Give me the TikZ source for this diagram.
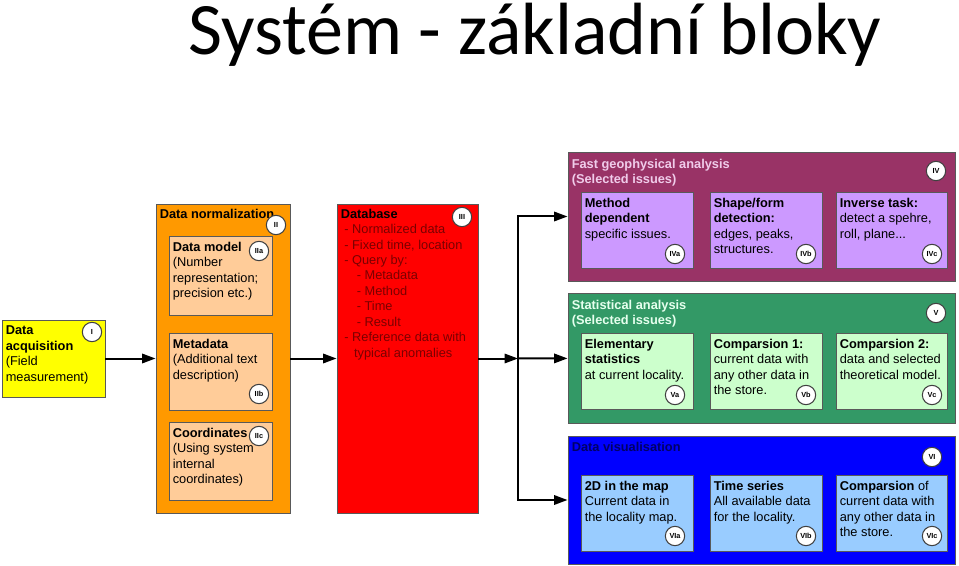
\documentclass[tikz,border=0pt]{standalone}
\usepackage{fontspec}
\setmainfont{Liberation Sans}
\newfontfamily\titlefont{Carlito}
\usetikzlibrary{arrows.meta,fit,positioning}

\definecolor{acqyellow}{HTML}{FFFF00}
\definecolor{normorange}{HTML}{FF9900}
\definecolor{normpeach}{HTML}{FFCC99}
\definecolor{dbred}{HTML}{FF0000}
\definecolor{dbtext}{HTML}{7A0000}
\definecolor{fastpurple}{HTML}{993366}
\definecolor{fastlight}{HTML}{CC99FF}
\definecolor{fasttitle}{HTML}{F0CCEA}
\definecolor{statgreen}{HTML}{339966}
\definecolor{statlight}{HTML}{CCFFCC}
\definecolor{stattitle}{HTML}{E6FFEE}
\definecolor{visblue}{HTML}{0000FF}
\definecolor{vislight}{HTML}{99CCFF}
\definecolor{vistitle}{HTML}{000066}

\tikzset{
  blk/.style = {draw=black!65, line width=0.7pt, inner sep=0pt},
  txt/.style = {anchor=north west, align=left, inner sep=0pt,
                font=\fontsize{9.6}{11.6}\selectfont},
  tag/.style = {circle, draw=black!75, fill=white, line width=0.8pt,
                minimum size=14.5pt, inner sep=0pt,
                font=\bfseries\fontsize{5.5}{5.5}\selectfont},
  arr/.style = {line width=1.5pt, -{Triangle[length=10pt,width=7pt]}}
}

\begin{document}
\begin{tikzpicture}[x=0.75pt, y=-0.75pt]
  \useasboundingbox (0,0) rectangle (959,566);
  % title
  \node[anchor=base west, inner sep=0pt, font=\titlefont\fontsize{55.5}{60}\selectfont]
    (title) at (188,55) {Systém - základní bloky};

  % I
  \node[blk, fill=acqyellow, fit={(2,320)(105,397)}] (acq) {};
  \node[txt] (acqtxt) at ([shift={(4,6)}]acq.north west)
    {\textbf{Data}\\\textbf{acquisition}\\(Field\\measurement)};
  \node[tag] (tI) at (92,332) {I};

  % II
  \node[blk, fill=normorange, fit={(156,204)(290,513)}] (norm) {};
  \node[txt] (normtxt) at ([shift={(4,5)}]norm.north west) {\textbf{Data normalization}};
  \node[tag] (tII) at (276,225) {II};
  \node[blk, fill=normpeach, fit={(169,236)(272,315)}] (nmodel) {};
  \node[txt] (nmodeltxt) at ([shift={(4,6)}]nmodel.north west)
    {\textbf{Data model}\\(Number\\representation;\\precision etc.)};
  \node[tag] (tIIa) at (259,251) {IIa};
  \node[blk, fill=normpeach, fit={(169,333)(272,410)}] (nmeta) {};
  \node[txt] (nmetatxt) at ([shift={(4,6)}]nmeta.north west)
    {\textbf{Metadata}\\(Additional text\\description)};
  \node[tag] (tIIb) at (259,394) {IIb};
  \node[blk, fill=normpeach, fit={(169,422)(272,500)}] (ncoord) {};
  \node[txt] (ncoordtxt) at ([shift={(4,6)}]ncoord.north west)
    {\textbf{Coordinates}\\(Using system\\internal\\coordinates)};
  \node[tag] (tIIc) at (259,436) {IIc};

  % III
  \node[blk, fill=dbred, fit={(337,204)(478,513)}] (db) {};
  \node[txt] (dbtxt) at ([shift={(4,5)}]db.north west)
    {\textbf{Database}\\
     \textcolor{dbtext}{\ - Normalized data}\\
     \textcolor{dbtext}{\ - Fixed time, location}\\
     \textcolor{dbtext}{\ - Query by:}\\
     \textcolor{dbtext}{\hspace{12pt}- Metadata}\\
     \textcolor{dbtext}{\hspace{12pt}- Method}\\
     \textcolor{dbtext}{\hspace{12pt}- Time}\\
     \textcolor{dbtext}{\hspace{12pt}- Result}\\
     \textcolor{dbtext}{\ - Reference data with}\\
     \textcolor{dbtext}{\hspace{10pt}typical anomalies}};
  \node[tag] (tIII) at (462,217) {III};

  % IV
  \node[blk, fill=fastpurple, fit={(568,152)(955,281)}] (fast) {};
  \node[txt, text=fasttitle] (fasttxt) at ([shift={(4,7)}]fast.north west)
    {\textbf{Fast geophysical analysis}\\\textbf{(Selected issues)}};
  \node[tag] (tIV) at (936,171) {IV};
  \node[blk, fill=fastlight, fit={(581,192)(693,268)}] (fastA) {};
  \node[txt] (fastAtxt) at ([shift={(4,6)}]fastA.north west)
    {\textbf{Method}\\\textbf{dependent}\\specific issues.};
  \node[tag] (tIVa) at (675,254) {IVa};
  \node[blk, fill=fastlight, fit={(710,192)(822,268)}] (fastB) {};
  \node[txt] (fastBtxt) at ([shift={(4,6)}]fastB.north west)
    {\textbf{Shape/form}\\\textbf{detection:}\\edges, peaks,\\structures.};
  \node[tag] (tIVb) at (806,254) {IVb};
  \node[blk, fill=fastlight, fit={(836,192)(947,268)}] (fastC) {};
  \node[txt] (fastCtxt) at ([shift={(4,6)}]fastC.north west)
    {\textbf{Inverse task:}\\detect a spehre,\\roll, plane...};
  \node[tag] (tIVc) at (932,254) {IVc};

  % V
  \node[blk, fill=statgreen, fit={(568,293)(955,423)}] (stat) {};
  \node[txt, text=stattitle] (stattxt) at ([shift={(4,7)}]stat.north west)
    {\textbf{Statistical analysis}\\\textbf{(Selected issues)}};
  \node[tag] (tV) at (936,313) {V};
  \node[blk, fill=statlight, fit={(581,333)(693,409)}] (statA) {};
  \node[txt] (statAtxt) at ([shift={(4,6)}]statA.north west)
    {\textbf{Elementary}\\\textbf{statistics}\\at current locality.};
  \node[tag] (tVa) at (675,395) {Va};
  \node[blk, fill=statlight, fit={(710,333)(822,409)}] (statB) {};
  \node[txt] (statBtxt) at ([shift={(4,6)}]statB.north west)
    {\textbf{Comparsion 1:}\\current data with\\any other data in\\the store.};
  \node[tag] (tVb) at (806,395) {Vb};
  \node[blk, fill=statlight, fit={(836,333)(947,409)}] (statC) {};
  \node[txt] (statCtxt) at ([shift={(4,6)}]statC.north west)
    {\textbf{Comparsion 2:}\\data and selected\\theoretical model.};
  \node[tag] (tVc) at (932,395) {Vc};

  % VI
  \node[blk, fill=visblue, fit={(568,436)(955,564)}] (vis) {};
  \node[txt, text=vistitle] (vistxt) at ([shift={(4,6)}]vis.north west)
    {\textbf{Data visualisation}};
  \node[tag] (tVI) at (932,457) {VI};
  \node[blk, fill=vislight, fit={(581,475)(693,551)}] (visA) {};
  \node[txt] (visAtxt) at ([shift={(4,6)}]visA.north west)
    {\textbf{2D in the map}\\Current data in\\the locality map.};
  \node[tag] (tVIa) at (675,536) {VIa};
  \node[blk, fill=vislight, fit={(710,475)(822,551)}] (visB) {};
  \node[txt] (visBtxt) at ([shift={(4,6)}]visB.north west)
    {\textbf{Time series}\\All available data\\for the locality.};
  \node[tag] (tVIb) at (806,536) {VIb};
  \node[blk, fill=vislight, fit={(836,475)(947,551)}] (visC) {};
  \node[txt] (visCtxt) at ([shift={(4,6)}]visC.north west)
    {\textbf{Comparsion} of\\current data with\\any other data in\\the store.};
  \node[tag] (tVIc) at (932,536) {VIc};

  % connectors
  \coordinate (split) at (518,358.5);
  \draw[arr] (acq) -- (norm);
  \draw[arr] (norm) -- (db);
  \draw[arr] (db) -- (split);
  \draw[arr] (split) |- (fast);
  \draw[arr] (split) -- (stat);
  \draw[arr] (split) |- (vis);
\end{tikzpicture}
\end{document}
